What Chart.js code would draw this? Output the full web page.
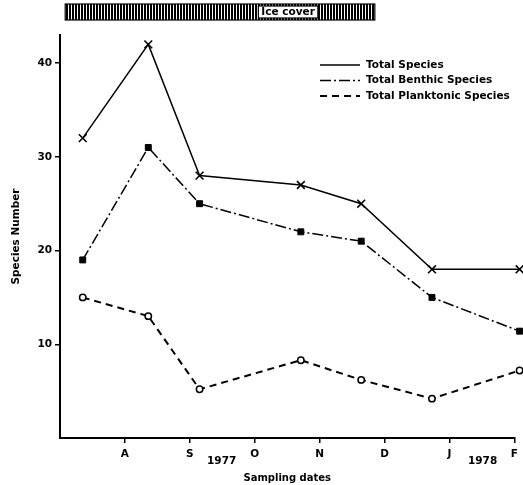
<!DOCTYPE html>
<html><head><meta charset="utf-8">
<script src="https://cdn.jsdelivr.net/npm/chart.js@4"></script>
<style>html,body{margin:0;padding:0;background:#fff}</style>
</head><body>
<canvas id="c" width="523" height="485"></canvas>
<script>
// ---- data ----
const monthLabels = ['A','S','O','N','D','J','F'];
const monthTicks = [1,2,3,4,5,6,7];
const yTicks = [10,20,30,40];
const sampleDates = [0.35,1.36,2.15,3.71,4.64,5.73,7.08];
const totalSpecies = [32,42,28,27,25,18,18];
const benthicSpecies = [19,31,25,22,21,15,11.4];
const planktonicSpecies = [15,13,5.2,8.3,6.2,4.2,7.2];
const yearLabels = ['1977','1978'];
const yearAt = [2.49,6.51];
const iceCover = [0.08,4.85];
const iceLabel = 'Ice cover';
const seriesNames = ['Total Species','Total Benthic Species','Total Planktonic Species'];

const FAMILY = '"DejaVu Sans", "Liberation Sans", sans-serif';
const FONT = 'bold 10.5px ' + FAMILY;
const tickFont = { family: FAMILY, size: 10.5, weight: 'bold' };
const pts = arr => sampleDates.map((x,i)=>({x, y: arr[i]}));

const extras = {
  id: 'extras',
  afterDraw(chart) {
    const ctx = chart.ctx, xs = chart.scales.x, ys = chart.scales.y;
    ctx.save();
    // ice cover bar
    const x0 = xs.getPixelForValue(iceCover[0]), x1 = xs.getPixelForValue(iceCover[1]);
    const top = 4, h = 16;
    const pc = document.createElement('canvas'); pc.width = 3; pc.height = 1;
    const p = pc.getContext('2d'); p.fillStyle = '#fff'; p.fillRect(0,0,3,1); p.fillStyle = '#000'; p.fillRect(0,0,2,1);
    ctx.fillStyle = ctx.createPattern(pc, 'repeat');
    ctx.fillRect(x0, top, x1 - x0, h);
    ctx.strokeStyle = '#000'; ctx.lineWidth = 1.2;
    ctx.strokeRect(x0, top, x1 - x0, h);
    ctx.font = FONT;
    const tw = ctx.measureText(iceLabel).width;
    const bx1 = x1 - 57, bx0 = bx1 - tw - 6;
    ctx.fillStyle = '#fff'; ctx.fillRect(bx0, top + 2, bx1 - bx0, h - 4);
    ctx.strokeRect(bx0, top + 2, bx1 - bx0, h - 4);
    ctx.fillStyle = '#000'; ctx.textAlign = 'center'; ctx.textBaseline = 'middle';
    ctx.fillText(iceLabel, (bx0 + bx1) / 2, top + h / 2 + 0.5);
    // year labels
    yearLabels.forEach((t,i) => ctx.fillText(t, xs.getPixelForValue(yearAt[i]), ys.bottom + 23));
    // legend
    ctx.textAlign = 'left';
    chart.data.datasets.forEach((ds,i) => {
      const y = 65 + i * 15.5;
      ctx.beginPath();
      ctx.setLineDash(ds.borderDash || []);
      ctx.lineWidth = ds.borderWidth;
      ctx.moveTo(320, y); ctx.lineTo(360, y); ctx.stroke();
      ctx.setLineDash([]);
      ctx.fillText(ds.label, 366, y);
    });
    ctx.restore();
  }
};

new Chart(document.getElementById('c'), {
  type: 'line',
  data: { datasets: [
    { label: seriesNames[0], data: pts(totalSpecies), borderColor: '#000', borderWidth: 1.5,
      pointStyle: 'crossRot', pointRadius: 5.5, pointBorderWidth: 1.6, pointBorderColor: '#000', clip: false },
    { label: seriesNames[1], data: pts(benthicSpecies), borderColor: '#000', borderWidth: 1.5, borderDash: [11,3,2,3],
      pointStyle: 'rect', pointRadius: 4.2, pointBackgroundColor: '#000', pointBorderColor: '#000', pointBorderWidth: 1, clip: false },
    { label: seriesNames[2], data: pts(planktonicSpecies), borderColor: '#000', borderWidth: 2, borderDash: [7,5],
      pointStyle: 'circle', pointRadius: 3.2, pointBackgroundColor: '#fff', pointBorderColor: '#000', pointBorderWidth: 1.5, clip: false }
  ]},
  options: {
    responsive: false, devicePixelRatio: 1, animation: false,
    layout: { padding: { top: 35, right: 6, bottom: 0, left: 0 } },
    plugins: { legend: { display: false }, tooltip: { enabled: false } },
    scales: {
      x: {
        type: 'linear', min: 0, max: 7,
        afterBuildTicks: s => { s.ticks = monthTicks.map(v => ({ value: v })); },
        afterFit: s => { s.height = 47; },
        ticks: { callback: v => monthLabels[monthTicks.indexOf(v)], color: '#000',
          font: tickFont, padding: 5, maxRotation: 0, autoSkip: false },
        grid: { drawOnChartArea: false, color: '#000', tickLength: 5, lineWidth: 1.5 },
        border: { color: '#000', width: 2 },
        title: { display: true, text: 'Sampling dates', color: '#000',
          font: { family: FAMILY, size: 10, weight: 'bold' }, padding: { top: 2, bottom: 1 } }
      },
      y: {
        min: 0, max: 43,
        afterBuildTicks: s => { s.ticks = yTicks.map(v => ({ value: v })); },
        afterFit: s => { s.width = 60; },
        ticks: { color: '#000', font: tickFont, padding: 3 },
        grid: { drawOnChartArea: false, color: '#000', tickLength: 5, lineWidth: 1.5 },
        border: { color: '#000', width: 2 },
        title: { display: true, text: 'Species Number', color: '#000',
          font: { family: FAMILY, size: 10.5, weight: 'bold' }, padding: { top: 10, bottom: 0 } }
      }
    }
  },
  plugins: [extras]
});
</script>
</body></html>
